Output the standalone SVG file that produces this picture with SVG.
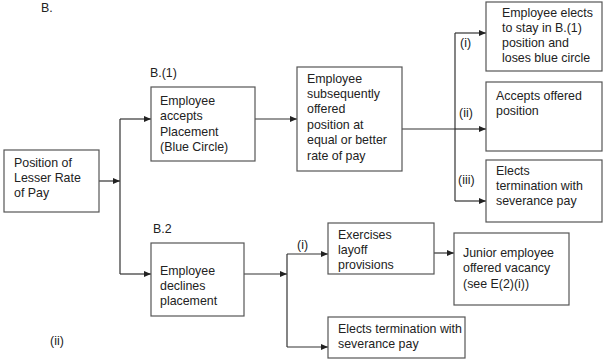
<svg xmlns="http://www.w3.org/2000/svg" width="603" height="359" viewBox="0 0 603 359">
<defs>
<marker id="ah" markerWidth="7" markerHeight="6" refX="7" refY="3" orient="auto" markerUnits="userSpaceOnUse">
<path d="M0,0 L7,3 L0,6 Z" fill="#222"/>
</marker>
<style>
.box{fill:#fff;stroke:#555;stroke-width:1.2}
.ln{fill:none;stroke:#333;stroke-width:1.2}
.ar{fill:none;stroke:#333;stroke-width:1.2;marker-end:url(#ah)}
text{font-family:"Liberation Sans",Arial,sans-serif;font-size:12.4px;fill:#222}
</style>
</defs>
<rect width="603" height="359" fill="#fff"/>
<text x="41" y="12">B.</text>
<text x="150" y="77">B.(1)</text>
<text x="153" y="233">B.2</text>
<text x="50" y="345">(ii)</text>
<g id="connectors">
<path class="ar" d="M99,181 H120"/>
<path class="ln" d="M120,119 V274"/>
<path class="ar" d="M120,119 H151"/>
<path class="ar" d="M120,274 H151"/>
<path class="ar" d="M255,119 H297"/>
<path class="ln" d="M402,129 H455"/>
<path class="ln" d="M455,33 V201"/>
<path class="ar" d="M455,33 H486"/>
<path class="ar" d="M455,129 H486"/>
<path class="ar" d="M455,201 H486"/>
<path class="ar" d="M244,274 H287"/>
<path class="ln" d="M287,254 V347"/>
<path class="ar" d="M287,254 H328"/>
<path class="ar" d="M287,347 H328"/>
<path class="ar" d="M434,253 H454"/>
<text x="460" y="47">(i)</text>
<text x="459" y="117">(ii)</text>
<text x="458" y="184">(iii)</text>
<text x="297" y="249">(i)</text>
</g>
<g id="pos">
<rect class="box" x="4" y="150" width="95" height="62"/>
<text x="14" y="167">Position of</text>
<text x="14" y="182">Lesser Rate</text>
<text x="14" y="197">of Pay</text>
</g>
<g id="accepts">
<rect class="box" x="151" y="87" width="104" height="74"/>
<text x="160" y="105">Employee</text>
<text x="160" y="120">accepts</text>
<text x="160" y="136">Placement</text>
<text x="160" y="151">(Blue Circle)</text>
</g>
<g id="offered">
<rect class="box" x="297" y="67" width="105" height="104"/>
<text x="307" y="83">Employee</text>
<text x="307" y="98">subsequently</text>
<text x="307" y="113">offered</text>
<text x="307" y="129">position at</text>
<text x="307" y="144">equal or better</text>
<text x="307" y="160">rate of pay</text>
</g>
<g id="stay">
<rect class="box" x="486" y="2" width="116" height="69"/>
<text x="502" y="17">Employee elects</text>
<text x="502" y="32">to stay in B.(1)</text>
<text x="502" y="47">position and</text>
<text x="502" y="62">loses blue circle</text>
</g>
<g id="acceptsoffered">
<rect class="box" x="486" y="82" width="116" height="69"/>
<text x="496" y="100">Accepts offered</text>
<text x="496" y="115">position</text>
</g>
<g id="elects1">
<rect class="box" x="486" y="160" width="116" height="62"/>
<text x="496" y="175">Elects</text>
<text x="496" y="190">termination with</text>
<text x="496" y="205">severance pay</text>
</g>
<g id="declines">
<rect class="box" x="151" y="243" width="93" height="73"/>
<text x="160" y="275">Employee</text>
<text x="160" y="290">declines</text>
<text x="160" y="305">placement</text>
</g>
<g id="layoff">
<rect class="box" x="328" y="223" width="106" height="51"/>
<text x="338" y="239">Exercises</text>
<text x="338" y="254">layoff</text>
<text x="338" y="269">provisions</text>
</g>
<g id="junior">
<rect class="box" x="454" y="233" width="115" height="72"/>
<text x="463" y="257">Junior employee</text>
<text x="463" y="272">offered vacancy</text>
<text x="463" y="288">(see E(2)(i))</text>
</g>
<g id="elects2">
<rect class="box" x="328" y="317" width="137" height="41"/>
<text x="338" y="333">Elects termination with</text>
<text x="338" y="348">severance pay</text>
</g>
</svg>
